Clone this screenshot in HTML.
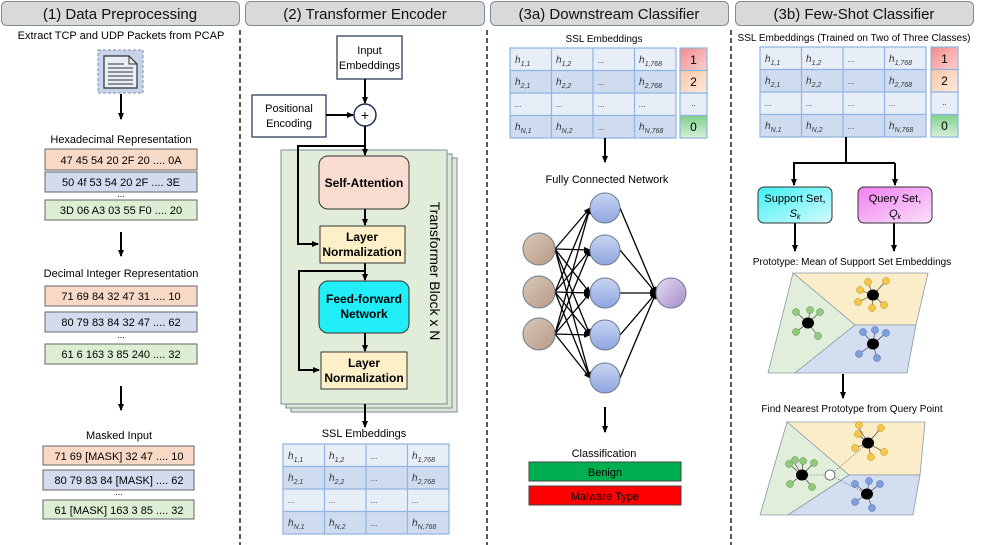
<!DOCTYPE html>
<html><head><meta charset="utf-8"><style>
html,body{margin:0;padding:0;background:#fff}
svg{display:block}
text{font-family:"Liberation Sans",sans-serif}
</style></head><body>
<svg width="997" height="545" viewBox="0 0 997 545" xmlns="http://www.w3.org/2000/svg">
<defs>
<marker id="ar" markerWidth="8" markerHeight="8" refX="6" refY="4" orient="auto" markerUnits="userSpaceOnUse"><path d="M0,1 L7,4 L0,7 Z" fill="#000"/></marker>
<linearGradient id="gr" x1="0" y1="0" x2="1" y2="1"><stop offset="0" stop-color="#f28b8b"/><stop offset="1" stop-color="#fbd0d0"/></linearGradient>
<linearGradient id="go" x1="0" y1="0" x2="1" y2="1"><stop offset="0" stop-color="#f8c7a6"/><stop offset="1" stop-color="#fde9dc"/></linearGradient>
<linearGradient id="gg" x1="0" y1="0" x2="0" y2="1"><stop offset="0" stop-color="#7ed08a"/><stop offset="1" stop-color="#d6f0d9"/></linearGradient>
<linearGradient id="gb" x1="0" y1="0" x2="0" y2="1"><stop offset="0" stop-color="#c8d4f2"/><stop offset="1" stop-color="#8ea6e0"/></linearGradient>
<linearGradient id="gt" x1="0" y1="0" x2="1" y2="1"><stop offset="0" stop-color="#d8c8b8"/><stop offset="1" stop-color="#b89a85"/></linearGradient>
<linearGradient id="gp" x1="0" y1="0" x2="1" y2="1"><stop offset="0" stop-color="#e6dcf2"/><stop offset="1" stop-color="#a48cc8"/></linearGradient>
<linearGradient id="gc" x1="0" y1="0" x2="1" y2="1"><stop offset="0" stop-color="#3ff0f5"/><stop offset="1" stop-color="#d5fbfd"/></linearGradient>
<linearGradient id="gm" x1="0" y1="0" x2="1" y2="1"><stop offset="0" stop-color="#f07ef0"/><stop offset="1" stop-color="#fbe0fb"/></linearGradient>
</defs>

<!-- headers -->
<g fill="#d9d9d9" stroke="#7f8c9a" stroke-width="1">
<rect x="1.5" y="1.5" width="238" height="24" rx="5"/>
<rect x="245.5" y="1.5" width="239" height="24" rx="5"/>
<rect x="490.5" y="1.5" width="238" height="24" rx="5"/>
<rect x="735.5" y="1.5" width="238" height="24" rx="5"/>
</g>
<g font-size="15" text-anchor="middle" fill="#111">
<text x="120" y="19">(1) Data Preprocessing</text>
<text x="365" y="19">(2) Transformer Encoder</text>
<text x="609" y="19">(3a) Downstream Classifier</text>
<text x="854" y="19">(3b) Few-Shot Classifier</text>
</g>
<g stroke="#222" stroke-width="1.5" stroke-dasharray="5,3">
<line x1="240" y1="30" x2="240" y2="545"/>
<line x1="487" y1="30" x2="487" y2="545"/>
<line x1="731" y1="30" x2="731" y2="545"/>
</g>

<!-- Panel 1 -->
<text x="121" y="39" font-size="11" text-anchor="middle">Extract TCP and UDP Packets from PCAP</text>
<rect x="98" y="50" width="45" height="43" fill="#c6d3e8" stroke="#7f8fa8" stroke-dasharray="3,2"/>
<path d="M104,56 H129 L137,64 V88 H104 Z" fill="#e8eef6" stroke="#333" stroke-width="1.2"/>
<path d="M129,56 V64 H137" fill="none" stroke="#333"/>
<g stroke="#333" stroke-width="1"><line x1="108" y1="64" x2="124" y2="64"/><line x1="108" y1="68" x2="133" y2="68"/><line x1="108" y1="72" x2="133" y2="72"/><line x1="108" y1="76" x2="133" y2="76"/><line x1="108" y1="80" x2="133" y2="80"/><line x1="108" y1="84" x2="133" y2="84"/></g>
<g stroke="#000" stroke-width="2" marker-end="url(#ar)">
<line x1="121" y1="94" x2="121" y2="119"/>
<line x1="121" y1="232" x2="121" y2="256"/>
<line x1="121" y1="386" x2="121" y2="410"/>
</g>
<g font-size="11" text-anchor="middle">
<text x="121" y="143">Hexadecimal Representation</text>
<text x="121" y="277">Decimal Integer Representation</text>
<text x="119" y="439">Masked Input</text>
</g>
<g stroke="#666" stroke-width="1">
<rect x="45" y="149" width="152" height="21" fill="#f8d9c6"/>
<rect x="45" y="172" width="152" height="20" fill="#d2dcee"/>
<rect x="45" y="200" width="152" height="20" fill="#dceed4"/>
<rect x="45" y="286" width="152" height="20" fill="#f8d9c6"/>
<rect x="45" y="312" width="152" height="20" fill="#d2dcee"/>
<rect x="45" y="344" width="152" height="20" fill="#dceed4"/>
<rect x="43" y="446" width="151" height="19" fill="#f8d9c6"/>
<rect x="43" y="470" width="151" height="20" fill="#d2dcee"/>
<rect x="43" y="500" width="151" height="19" fill="#dceed4"/>
</g>
<g font-size="11" text-anchor="middle">
<text x="121" y="164">47 45 54 20 2F 20 ....  0A</text>
<text x="121" y="186">50 4f 53 54 20 2F ....  3E</text>
<text x="121" y="197" font-size="9">...</text>
<text x="121" y="214">3D 06 A3 03 55 F0 ....  20</text>
<text x="121" y="300">71 69 84 32 47 31 ....  10</text>
<text x="121" y="326">80 79 83 84 32 47 ....  62</text>
<text x="121" y="338" font-size="9">...</text>
<text x="121" y="358">61 6 163 3 85 240 ....  32</text>
<text x="119" y="460">71 69 [MASK] 32 47 ....  10</text>
<text x="119" y="484">80 79 83 84 [MASK] ....  62</text>
<text x="119" y="495" font-size="9">...</text>
<text x="119" y="514">61 [MASK] 163 3 85 ....  32</text>
</g>

<!-- Panel 2 -->
<rect x="337" y="36" width="65" height="43" fill="#fff" stroke="#2f3f5f" stroke-width="1.3"/>
<text x="369.5" y="54" font-size="11" text-anchor="middle">Input</text>
<text x="369.5" y="69" font-size="11" text-anchor="middle">Embeddings</text>
<rect x="252" y="95" width="74" height="42" fill="#fff" stroke="#2f3f5f" stroke-width="1.3"/>
<text x="289" y="112" font-size="11" text-anchor="middle">Positional</text>
<text x="289" y="127" font-size="11" text-anchor="middle">Encoding</text>
<g stroke="#000" stroke-width="2" fill="none">
<line x1="365" y1="79" x2="365" y2="103" marker-end="url(#ar)"/>
<line x1="326" y1="115" x2="353" y2="115" marker-end="url(#ar)"/>
</g>
<circle cx="365" cy="115" r="11" fill="#fff" stroke="#1f3050" stroke-width="1.5"/>
<text x="365" y="120" font-size="14" text-anchor="middle">+</text>
<rect x="291" y="158" width="166" height="254" fill="#dde9d4" stroke="#7a8a9a"/>
<rect x="286" y="154" width="166" height="254" fill="#dde9d4" stroke="#7a8a9a"/>
<rect x="281" y="150" width="166" height="254" fill="#e2edd9" stroke="#7a8a9a"/>
<g stroke="#000" stroke-width="2" fill="none">
<line x1="365" y1="126" x2="365" y2="155" marker-end="url(#ar)"/>
<polyline points="365,146 298,146 298,244 318,244" marker-end="url(#ar)"/>
<line x1="365" y1="209" x2="365" y2="225" marker-end="url(#ar)"/>
<line x1="365" y1="263" x2="365" y2="280" marker-end="url(#ar)"/>
<polyline points="365,271 299,271 299,370 319,370" marker-end="url(#ar)"/>
<line x1="365" y1="333" x2="365" y2="351" marker-end="url(#ar)"/>
<line x1="365" y1="404" x2="365" y2="427" marker-end="url(#ar)"/>
</g>
<rect x="319" y="156" width="90" height="53" rx="9" fill="#f8dccf" stroke="#333"/>
<text x="364" y="187" font-size="12" font-weight="bold" text-anchor="middle">Self-Attention</text>
<rect x="320" y="226" width="85" height="37" fill="#fdf0c8" stroke="#333"/>
<text x="362" y="241" font-size="12" font-weight="bold" text-anchor="middle">Layer</text>
<text x="362" y="256" font-size="12" font-weight="bold" text-anchor="middle">Normalization</text>
<rect x="319" y="281" width="90" height="52" rx="9" fill="#22eef8" stroke="#333"/>
<text x="364" y="303" font-size="12" font-weight="bold" text-anchor="middle">Feed-forward</text>
<text x="364" y="318" font-size="12" font-weight="bold" text-anchor="middle">Network</text>
<rect x="321" y="352" width="86" height="37" fill="#fdf0c8" stroke="#333"/>
<text x="364" y="367" font-size="12" font-weight="bold" text-anchor="middle">Layer</text>
<text x="364" y="382" font-size="12" font-weight="bold" text-anchor="middle">Normalization</text>
<text x="0" y="0" font-size="14" text-anchor="middle" transform="translate(430,271) rotate(90)">Transformer Block x N</text>
<text x="364" y="437" font-size="11" text-anchor="middle">SSL Embeddings</text>

<!-- table group template copies -->
<g transform="translate(283,444)">
<rect x="0" y="0" width="166" height="22.5" fill="#e8eef8"/><rect x="0" y="22.5" width="166" height="22.5" fill="#cfdcef"/><rect x="0" y="45" width="166" height="22.5" fill="#e8eef8"/><rect x="0" y="67.5" width="166" height="22.5" fill="#cfdcef"/>
<g stroke="#8db4e2" stroke-width="1.2" fill="none"><rect x="0" y="0" width="166" height="90"/><line x1="41.5" y1="0" x2="41.5" y2="90"/><line x1="83" y1="0" x2="83" y2="90"/><line x1="124.5" y1="0" x2="124.5" y2="90"/><line x1="0" y1="22.5" x2="166" y2="22.5"/><line x1="0" y1="45" x2="166" y2="45"/><line x1="0" y1="67.5" x2="166" y2="67.5"/></g>
<g font-size="10" font-style="italic" fill="#333">
<text x="5" y="15">h<tspan font-size="7" dy="3">1,1</tspan></text><text x="46" y="15">h<tspan font-size="7" dy="3">1,2</tspan></text><text x="88" y="15" font-size="8">...</text><text x="129" y="15">h<tspan font-size="7" dy="3">1,768</tspan></text>
<text x="5" y="37">h<tspan font-size="7" dy="3">2,1</tspan></text><text x="46" y="37">h<tspan font-size="7" dy="3">2,2</tspan></text><text x="88" y="37" font-size="8">...</text><text x="129" y="37">h<tspan font-size="7" dy="3">2,768</tspan></text>
<text x="5" y="59" font-size="8">...</text><text x="46" y="59" font-size="8">...</text><text x="88" y="59" font-size="8">...</text><text x="129" y="59" font-size="8">...</text>
<text x="5" y="82">h<tspan font-size="7" dy="3">N,1</tspan></text><text x="46" y="82">h<tspan font-size="7" dy="3">N,2</tspan></text><text x="88" y="82" font-size="8">...</text><text x="129" y="82">h<tspan font-size="7" dy="3">N,768</tspan></text>
</g></g>

<g transform="translate(510,48)">
<rect x="0" y="0" width="166" height="22.5" fill="#e8eef8"/><rect x="0" y="22.5" width="166" height="22.5" fill="#cfdcef"/><rect x="0" y="45" width="166" height="22.5" fill="#e8eef8"/><rect x="0" y="67.5" width="166" height="22.5" fill="#cfdcef"/>
<g stroke="#8db4e2" stroke-width="1.2" fill="none"><rect x="0" y="0" width="166" height="90"/><line x1="41.5" y1="0" x2="41.5" y2="90"/><line x1="83" y1="0" x2="83" y2="90"/><line x1="124.5" y1="0" x2="124.5" y2="90"/><line x1="0" y1="22.5" x2="166" y2="22.5"/><line x1="0" y1="45" x2="166" y2="45"/><line x1="0" y1="67.5" x2="166" y2="67.5"/></g>
<g font-size="10" font-style="italic" fill="#333">
<text x="5" y="15">h<tspan font-size="7" dy="3">1,1</tspan></text><text x="46" y="15">h<tspan font-size="7" dy="3">1,2</tspan></text><text x="88" y="15" font-size="8">...</text><text x="129" y="15">h<tspan font-size="7" dy="3">1,768</tspan></text>
<text x="5" y="37">h<tspan font-size="7" dy="3">2,1</tspan></text><text x="46" y="37">h<tspan font-size="7" dy="3">2,2</tspan></text><text x="88" y="37" font-size="8">...</text><text x="129" y="37">h<tspan font-size="7" dy="3">2,768</tspan></text>
<text x="5" y="59" font-size="8">...</text><text x="46" y="59" font-size="8">...</text><text x="88" y="59" font-size="8">...</text><text x="129" y="59" font-size="8">...</text>
<text x="5" y="82">h<tspan font-size="7" dy="3">N,1</tspan></text><text x="46" y="82">h<tspan font-size="7" dy="3">N,2</tspan></text><text x="88" y="82" font-size="8">...</text><text x="129" y="82">h<tspan font-size="7" dy="3">N,768</tspan></text>
</g></g>

<g transform="translate(760,47)">
<rect x="0" y="0" width="166" height="22.5" fill="#e8eef8"/><rect x="0" y="22.5" width="166" height="22.5" fill="#cfdcef"/><rect x="0" y="45" width="166" height="22.5" fill="#e8eef8"/><rect x="0" y="67.5" width="166" height="22.5" fill="#cfdcef"/>
<g stroke="#8db4e2" stroke-width="1.2" fill="none"><rect x="0" y="0" width="166" height="90"/><line x1="41.5" y1="0" x2="41.5" y2="90"/><line x1="83" y1="0" x2="83" y2="90"/><line x1="124.5" y1="0" x2="124.5" y2="90"/><line x1="0" y1="22.5" x2="166" y2="22.5"/><line x1="0" y1="45" x2="166" y2="45"/><line x1="0" y1="67.5" x2="166" y2="67.5"/></g>
<g font-size="10" font-style="italic" fill="#333">
<text x="5" y="15">h<tspan font-size="7" dy="3">1,1</tspan></text><text x="46" y="15">h<tspan font-size="7" dy="3">1,2</tspan></text><text x="88" y="15" font-size="8">...</text><text x="129" y="15">h<tspan font-size="7" dy="3">1,768</tspan></text>
<text x="5" y="37">h<tspan font-size="7" dy="3">2,1</tspan></text><text x="46" y="37">h<tspan font-size="7" dy="3">2,2</tspan></text><text x="88" y="37" font-size="8">...</text><text x="129" y="37">h<tspan font-size="7" dy="3">2,768</tspan></text>
<text x="5" y="59" font-size="8">...</text><text x="46" y="59" font-size="8">...</text><text x="88" y="59" font-size="8">...</text><text x="129" y="59" font-size="8">...</text>
<text x="5" y="82">h<tspan font-size="7" dy="3">N,1</tspan></text><text x="46" y="82">h<tspan font-size="7" dy="3">N,2</tspan></text><text x="88" y="82" font-size="8">...</text><text x="129" y="82">h<tspan font-size="7" dy="3">N,768</tspan></text>
</g></g>

<!-- label columns -->
<g stroke="#8db4e2" stroke-width="1.2">
<rect x="680" y="48" width="27" height="22.5" fill="url(#gr)"/><rect x="680" y="70.5" width="27" height="22.5" fill="url(#go)"/><rect x="680" y="93" width="27" height="22.5" fill="#e8eef8"/><rect x="680" y="115.5" width="27" height="22.5" fill="url(#gg)"/>
<rect x="931" y="47" width="27" height="22.5" fill="url(#gr)"/><rect x="931" y="69.5" width="27" height="22.5" fill="url(#go)"/><rect x="931" y="92" width="27" height="22.5" fill="#e8eef8"/><rect x="931" y="114.5" width="27" height="22.5" fill="url(#gg)"/>
</g>
<g font-size="12" text-anchor="middle">
<text x="693.5" y="64">1</text><text x="693.5" y="86">2</text><text x="693.5" y="106" font-size="8">..</text><text x="693.5" y="131">0</text>
<text x="944.5" y="63">1</text><text x="944.5" y="85">2</text><text x="944.5" y="105" font-size="8">..</text><text x="944.5" y="130">0</text>
</g>

<!-- Panel 3a -->
<text x="604" y="42" font-size="10" text-anchor="middle">SSL Embeddings</text>
<line x1="605" y1="138" x2="605" y2="162" stroke="#000" stroke-width="2" marker-end="url(#ar)"/>
<text x="607" y="183" font-size="11" text-anchor="middle">Fully Connected Network</text>
<g stroke="#000" stroke-width="1.3" marker-end="url(#ar)">
<line x1="555" y1="249" x2="590" y2="208"/><line x1="555" y1="249" x2="590" y2="250"/><line x1="555" y1="249" x2="590" y2="293"/><line x1="555" y1="249" x2="590" y2="335"/><line x1="555" y1="249" x2="590" y2="378"/>
<line x1="555" y1="292" x2="590" y2="208"/><line x1="555" y1="292" x2="590" y2="250"/><line x1="555" y1="292" x2="590" y2="293"/><line x1="555" y1="292" x2="590" y2="335"/><line x1="555" y1="292" x2="590" y2="378"/>
<line x1="555" y1="334" x2="590" y2="208"/><line x1="555" y1="334" x2="590" y2="250"/><line x1="555" y1="334" x2="590" y2="293"/><line x1="555" y1="334" x2="590" y2="335"/><line x1="555" y1="334" x2="590" y2="378"/>
<line x1="620" y1="208" x2="656" y2="293"/><line x1="620" y1="250" x2="656" y2="293"/><line x1="620" y1="293" x2="656" y2="293"/><line x1="620" y1="335" x2="656" y2="293"/><line x1="620" y1="378" x2="656" y2="293"/>
</g>
<g stroke="#6b7a90" stroke-width="1">
<circle cx="539" cy="249" r="16" fill="url(#gt)"/><circle cx="539" cy="292" r="16" fill="url(#gt)"/><circle cx="539" cy="334" r="16" fill="url(#gt)"/>
<circle cx="605" cy="208" r="15" fill="url(#gb)"/><circle cx="605" cy="250" r="15" fill="url(#gb)"/><circle cx="605" cy="293" r="15" fill="url(#gb)"/><circle cx="605" cy="335" r="15" fill="url(#gb)"/><circle cx="605" cy="378" r="15" fill="url(#gb)"/>
<circle cx="671" cy="293" r="15" fill="url(#gp)"/>
</g>
<line x1="605" y1="407" x2="605" y2="432" stroke="#000" stroke-width="2" marker-end="url(#ar)"/>
<text x="604" y="457" font-size="11" text-anchor="middle">Classification</text>
<rect x="529" y="462" width="152" height="19" fill="#00b050" stroke="#444"/>
<text x="605" y="476" font-size="11" text-anchor="middle">Benign</text>
<rect x="529" y="486" width="152" height="19" fill="#ff0000" stroke="#444"/>
<text x="605" y="500" font-size="11" text-anchor="middle">Malware Type</text>

<!-- Panel 3b -->
<text x="854" y="41" font-size="10" text-anchor="middle">SSL Embeddings (Trained on Two of Three Classes)</text>
<g stroke="#000" stroke-width="2" fill="none">
<polyline points="846,137 846,163"/>
<polyline points="793,163 895,163"/>
<line x1="794" y1="163" x2="794" y2="185" marker-end="url(#ar)"/>
<line x1="895" y1="163" x2="895" y2="185" marker-end="url(#ar)"/>
<line x1="795" y1="223" x2="795" y2="251" marker-end="url(#ar)"/>
<line x1="894" y1="223" x2="894" y2="251" marker-end="url(#ar)"/>
<line x1="843" y1="374" x2="843" y2="398" marker-end="url(#ar)"/>
</g>
<rect x="758" y="187" width="74" height="36" rx="6" fill="url(#gc)" stroke="#333"/>
<text x="795" y="202" font-size="11" text-anchor="middle">Support Set,</text>
<text x="795" y="217" font-size="11" text-anchor="middle" font-style="italic">S<tspan font-size="7" dy="2">k</tspan></text>
<rect x="858" y="187" width="74" height="36" rx="6" fill="url(#gm)" stroke="#333"/>
<text x="895" y="202" font-size="11" text-anchor="middle">Query Set,</text>
<text x="895" y="217" font-size="11" text-anchor="middle" font-style="italic">Q<tspan font-size="7" dy="2">k</tspan></text>
<text x="852" y="265" font-size="10" text-anchor="middle">Prototype: Mean of Support Set Embeddings</text>

<!-- para 1 -->
<polygon points="793,273 928,273 916,325 855,325" fill="#fbedc8" stroke="#8a9aaa" stroke-width="0.8"/>
<polygon points="793,273 855,325 795,373 768,373" fill="#e1eed9" stroke="#8a9aaa" stroke-width="0.8"/>
<polygon points="855,325 916,325 907,373 795,373" fill="#d3def0" stroke="#8a9aaa" stroke-width="0.8"/>
<g stroke="#333" stroke-width="0.6">
<line x1="873" y1="295" x2="860" y2="290"/><line x1="873" y1="295" x2="868" y2="282"/><line x1="873" y1="295" x2="886" y2="281"/><line x1="873" y1="295" x2="884" y2="305"/><line x1="873" y1="295" x2="872" y2="308"/><line x1="873" y1="295" x2="858" y2="302"/>
<line x1="808" y1="323" x2="796" y2="312"/><line x1="808" y1="323" x2="810" y2="310"/><line x1="808" y1="323" x2="820" y2="312"/><line x1="808" y1="323" x2="818" y2="336"/><line x1="808" y1="323" x2="796" y2="332"/>
<line x1="873" y1="344" x2="863" y2="332"/><line x1="873" y1="344" x2="875" y2="330"/><line x1="873" y1="344" x2="886" y2="333"/><line x1="873" y1="344" x2="877" y2="358"/><line x1="873" y1="344" x2="859" y2="354"/>
</g>
<g stroke="#b08a30" stroke-width="0.5" fill="#f7c843"><circle cx="860" cy="290" r="3.5"/><circle cx="868" cy="282" r="3.5"/><circle cx="886" cy="281" r="3.5"/><circle cx="884" cy="305" r="3.5"/><circle cx="872" cy="308" r="3.5"/><circle cx="858" cy="302" r="3.5"/></g>
<g stroke="#5a8a50" stroke-width="0.5" fill="#8fcb7a"><circle cx="796" cy="312" r="3.5"/><circle cx="810" cy="310" r="3.5"/><circle cx="820" cy="312" r="3.5"/><circle cx="818" cy="336" r="3.5"/><circle cx="796" cy="332" r="3.5"/></g>
<g stroke="#4a6aa0" stroke-width="0.5" fill="#7d9fdc"><circle cx="863" cy="332" r="3.5"/><circle cx="875" cy="330" r="3.5"/><circle cx="886" cy="333" r="3.5"/><circle cx="877" cy="358" r="3.5"/><circle cx="859" cy="354" r="3.5"/></g>
<g fill="#000"><ellipse cx="873" cy="295" rx="6" ry="5.5"/><ellipse cx="808" cy="323" rx="6" ry="5.5"/><ellipse cx="873" cy="344" rx="6" ry="5.5"/></g>

<text x="852" y="412" font-size="10" text-anchor="middle">Find Nearest Prototype from Query Point</text>
<!-- para 2 -->
<polygon points="787,422 925,422 920,475 849,475" fill="#fbedc8" stroke="#8a9aaa" stroke-width="0.8"/>
<polygon points="787,422 849,475 788,515 760,515" fill="#e1eed9" stroke="#8a9aaa" stroke-width="0.8"/>
<polygon points="849,475 920,475 913,515 788,515" fill="#d3def0" stroke="#8a9aaa" stroke-width="0.8"/>
<g stroke="#555" stroke-width="0.6" stroke-dasharray="1.5,1.5"><line x1="830" y1="475" x2="868" y2="443"/><line x1="830" y1="475" x2="802" y2="475"/><line x1="830" y1="475" x2="867" y2="494"/></g>
<g stroke="#333" stroke-width="0.6">
<line x1="868" y1="443" x2="858" y2="434"/><line x1="868" y1="443" x2="881" y2="428"/><line x1="868" y1="443" x2="884" y2="452"/><line x1="868" y1="443" x2="871" y2="457"/><line x1="868" y1="443" x2="855" y2="448"/><line x1="868" y1="443" x2="859" y2="428"/>
<line x1="802" y1="475" x2="789" y2="464"/><line x1="802" y1="475" x2="803" y2="461"/><line x1="802" y1="475" x2="814" y2="463"/><line x1="802" y1="475" x2="812" y2="487"/><line x1="802" y1="475" x2="790" y2="484"/><line x1="802" y1="475" x2="795" y2="464"/>
<line x1="867" y1="494" x2="855" y2="484"/><line x1="867" y1="494" x2="869" y2="481"/><line x1="867" y1="494" x2="880" y2="484"/><line x1="867" y1="494" x2="872" y2="508"/><line x1="867" y1="494" x2="855" y2="502"/>
</g>
<g stroke="#b08a30" stroke-width="0.5" fill="#f7c843"><circle cx="858" cy="434" r="3.5"/><circle cx="859" cy="425" r="3.5"/><circle cx="881" cy="428" r="3.5"/><circle cx="884" cy="452" r="3.5"/><circle cx="871" cy="457" r="3.5"/><circle cx="855" cy="448" r="3.5"/></g>
<g stroke="#5a8a50" stroke-width="0.5" fill="#8fcb7a"><circle cx="789" cy="464" r="3.5"/><circle cx="790" cy="462" r="0"/><circle cx="803" cy="461" r="3.5"/><circle cx="814" cy="463" r="3.5"/><circle cx="812" cy="487" r="3.5"/><circle cx="790" cy="484" r="3.5"/><circle cx="795" cy="460" r="3.5"/></g>
<g stroke="#4a6aa0" stroke-width="0.5" fill="#7d9fdc"><circle cx="855" cy="484" r="3.5"/><circle cx="869" cy="481" r="3.5"/><circle cx="880" cy="484" r="3.5"/><circle cx="872" cy="508" r="3.5"/><circle cx="855" cy="502" r="3.5"/></g>
<g fill="#000"><ellipse cx="868" cy="443" rx="6" ry="5.5"/><ellipse cx="802" cy="475" rx="6" ry="5.5"/><ellipse cx="867" cy="494" rx="6" ry="5.5"/></g>
<circle cx="830" cy="475" r="5" fill="#fff" stroke="#555" stroke-width="0.8"/>
</svg>
</body></html>
